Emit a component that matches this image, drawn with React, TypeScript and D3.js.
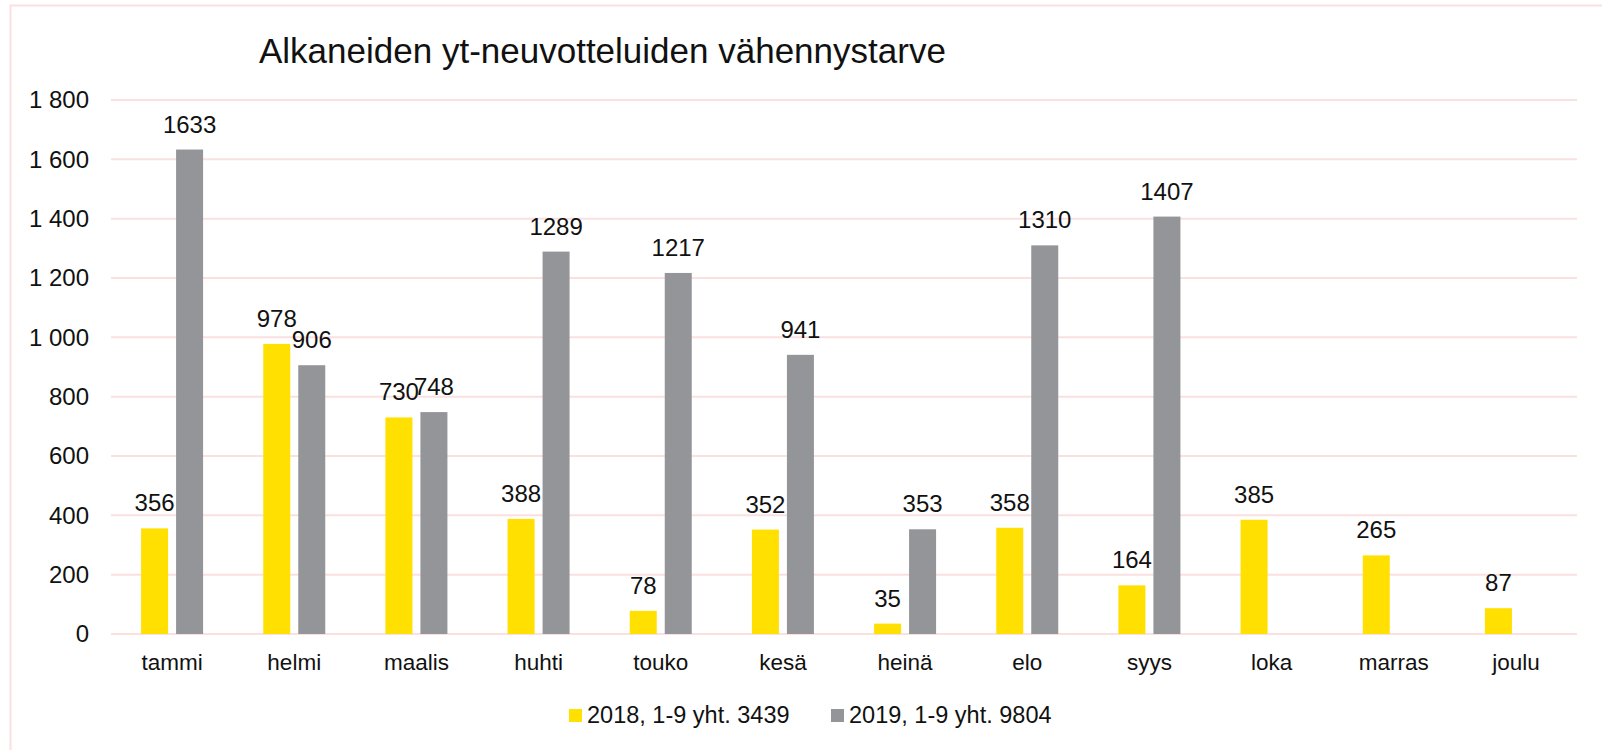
import React from "react";
import * as d3 from "d3";

const categories = ["tammi", "helmi", "maalis", "huhti", "touko", "kesä", "heinä", "elo", "syys", "loka", "marras", "joulu"];
const values2018: (number | null)[] = [356, 978, 730, 388, 78, 352, 35, 358, 164, 385, 265, 87];
const values2019: (number | null)[] = [1633, 906, 748, 1289, 1217, 941, 353, 1310, 1407, null, null, null];
const seriesNames = ["2018, 1-9 yht. 3439", "2019, 1-9 yht. 9804"];
const yTicks = [0, 200, 400, 600, 800, 1000, 1200, 1400, 1600, 1800];
const title = "Alkaneiden yt-neuvotteluiden vähennystarve";

const W = 1602;
const H = 750;
const FONT = "'Liberation Sans', Arial, sans-serif";
const YELLOW = "#FFE000";
const GRAY = "#949598";
const GRID = "#FBE0E0";

export default function App() {
  const left = 111;
  const right = 1577;
  const top = 100;
  const bottom = 634;
  const x = d3.scaleBand<string>().domain(categories).range([left, right]).paddingInner(0).paddingOuter(0);
  const y = d3.scaleLinear().domain([0, 1800]).range([bottom, top]);
  const step = x.bandwidth();
  const barW = 27;
  const gap = 8;
  const fmt = (v: number) => (v >= 1000 ? `${Math.floor(v / 1000)} ${String(v % 1000).padStart(3, "0")}` : String(v));
  const series = [
    { vals: values2018, color: YELLOW, offset: -(gap / 2 + barW) },
    { vals: values2019, color: GRAY, offset: gap / 2 },
  ];
  return (
    <svg width={W} height={H} style={{ position: "absolute", left: 0, top: 0, background: "#fff" }} fontFamily={FONT}>
      <rect x={10.5} y={5.5} width={W} height={H} fill="none" stroke={GRID} strokeWidth={2} />
      <text x={259} y={63} fontSize={35} fill="#111">{title}</text>
      {yTicks.map((t) => (
        <g key={t}>
          <line x1={left} x2={right} y1={y(t)} y2={y(t)} stroke={GRID} strokeWidth={2} />
          <text x={89} y={y(t)} dy="0.35em" textAnchor="end" fontSize={24} fill="#111">{fmt(t)}</text>
        </g>
      ))}
      {series.map((s, si) =>
        categories.map((c, i) => {
          const v = s.vals[i];
          if (v == null) return null;
          const cx = (x(c) as number) + step / 2 + s.offset;
          return (
            <g key={`${si}-${c}`}>
              <rect x={cx} y={y(v)} width={barW} height={bottom - y(v)} fill={s.color} />
              <text x={cx + barW / 2} y={y(v) - 17} textAnchor="middle" fontSize={24} fill="#111">{v}</text>
            </g>
          );
        })
      )}
      {categories.map((c) => (
        <text key={c} x={(x(c) as number) + step / 2} y={670} textAnchor="middle" fontSize={22.5} fill="#111">{c}</text>
      ))}
      <rect x={569} y={709} width={13} height={13} fill={YELLOW} />
      <text x={587} y={723} fontSize={23.5} fill="#111">{seriesNames[0]}</text>
      <rect x={831} y={709} width={13} height={13} fill={GRAY} />
      <text x={849} y={723} fontSize={23.5} fill="#111">{seriesNames[1]}</text>
    </svg>
  );
}
